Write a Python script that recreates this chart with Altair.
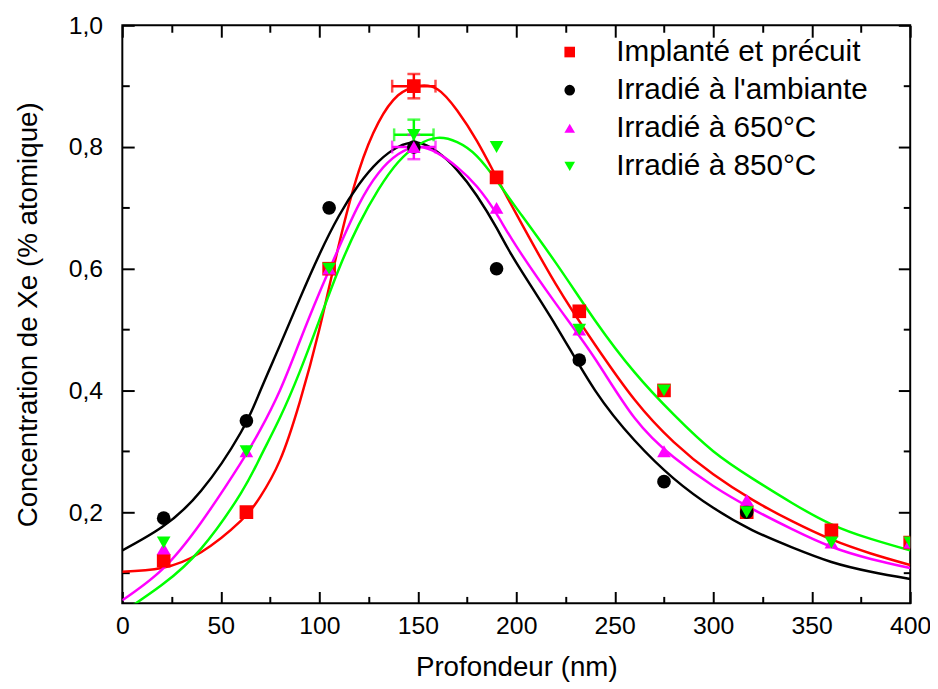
import altair as alt
import pandas as pd

# ---------------- data ----------------
series_names = ["Implanté et précuit", "Irradié à l'ambiante", "Irradié à 650°C", "Irradié à 850°C"]
series_colors = ["#ff0000", "#000000", "#ff00ff", "#00ff00"]
series_shapes = ["square", "circle", "triangle-up", "triangle-down"]

# measured points (depth in nm, concentration in at.%)
depth_pts = [21, 63, 105, 148, 190, 232, 275, 317, 360, 400]
implante_pts = [0.12, 0.20, 0.60, 0.90, 0.75, 0.53, 0.40, 0.20, 0.17, 0.15]
ambiante_pts = [0.19, 0.35, 0.70, 0.80, 0.60, 0.45, 0.25, 0.20, None, None]
irr650_pts = [0.14, 0.30, 0.60, 0.80, 0.70, 0.50, 0.30, 0.22, 0.15, 0.15]
irr850_pts = [0.15, 0.30, 0.60, 0.82, 0.80, 0.50, 0.40, 0.20, 0.15, 0.15]

# fitted curves, sampled from the figure
curve_x = [0, 20, 40, 60, 70, 80, 90, 100, 110, 120, 130, 140, 150, 160, 170, 180,
           190, 200, 220, 240, 260, 280, 300, 320, 340, 360, 380, 400]
implante_fit = [0.102, 0.108, 0.134, 0.185, 0.225, 0.285, 0.38, 0.50, 0.64, 0.76, 0.84, 0.885,
                0.90, 0.895, 0.86, 0.81, 0.75, 0.69, 0.575, 0.475, 0.385, 0.315, 0.262, 0.22,
                0.185, 0.155, 0.132, 0.113]
ambiante_fit = [0.137, 0.175, 0.235, 0.33, 0.399, 0.474, 0.55, 0.623, 0.687, 0.738, 0.776, 0.80,
                0.807, 0.792, 0.762, 0.72, 0.667, 0.61, 0.507, 0.40, 0.318, 0.255, 0.207, 0.17,
                0.142, 0.118, 0.102, 0.09]
irr650_fit = [0.055, 0.105, 0.183, 0.28, 0.335, 0.40, 0.48, 0.56, 0.635, 0.705, 0.757, 0.788,
              0.80, 0.79, 0.767, 0.735, 0.69, 0.637, 0.543, 0.452, 0.355, 0.29, 0.243, 0.205,
              0.172, 0.143, 0.123, 0.108]
irr850_fit = [0.035, 0.08, 0.14, 0.23, 0.29, 0.355, 0.43, 0.515, 0.60, 0.672, 0.73, 0.775,
              0.803, 0.815, 0.808, 0.785, 0.745, 0.70, 0.61, 0.515, 0.43, 0.36, 0.30, 0.255,
              0.215, 0.18, 0.156, 0.137]

# error bars on the peak points
err_series = ["Implanté et précuit", "Irradié à 650°C", "Irradié à 850°C"]
err_x = [148, 148, 148]
err_y = [0.90, 0.80, 0.82]
err_dx = [11, 11, 10]
err_dy = [0.02, 0.02, 0.025]

x_major = [0, 50, 100, 150, 200, 250, 300, 350, 400]
x_minor = [25, 75, 125, 175, 225, 275, 325, 375]
y_major = [0.2, 0.4, 0.6, 0.8, 1.0]
y_minor = [0.1, 0.3, 0.5, 0.7, 0.9]

# ---------------- tables ----------------
pts_rows = []
for k, (name, vals) in enumerate(zip(series_names, [implante_pts, ambiante_pts, irr650_pts, irr850_pts])):
    for x, y in zip(depth_pts, vals):
        if y is not None:
            pts_rows.append({"x": x, "y": y, "series": name, "order": k})
pts = pd.DataFrame(pts_rows)

fit_rows = []
for name, vals in zip(series_names, [implante_fit, ambiante_fit, irr650_fit, irr850_fit]):
    for x, y in zip(curve_x, vals):
        fit_rows.append({"x": x, "y": y, "series": name})
fits = pd.DataFrame(fit_rows)

errs = pd.DataFrame({"series": err_series, "x": err_x, "y": err_y, "dx": err_dx, "dy": err_dy})
errs["x_lo"] = errs["x"] - errs["dx"]
errs["x_hi"] = errs["x"] + errs["dx"]
errs["y_lo"] = errs["y"] - errs["dy"]
errs["y_hi"] = errs["y"] + errs["dy"]

W, H = 796, 584
FONT = "Liberation Sans"
xs = alt.Scale(domain=[0, 400], nice=False)
ys = alt.Scale(domain=[0.05, 1.0], nice=False, zero=False)
col = alt.Scale(domain=series_names, range=series_colors)
shp = alt.Scale(domain=series_names, range=series_shapes)
# same mapping, listed in another order so that Vega-Lite keeps it apart from the legend
col_nolegend = alt.Scale(domain=series_names[::-1], range=series_colors[::-1])


def tick_axis(orient, offset, values, size):
    return alt.Axis(orient=orient, offset=offset, values=values, labels=False, domain=False,
                    ticks=True, tickSize=size, tickWidth=2, tickColor="black", title=None,
                    grid=False)


def legend():
    return alt.Legend(title=None, orient="none", legendX=437, legendY=12, labelFont=FONT,
                      labelFontSize=30, labelColor="black", symbolSize=115,
                      symbolStrokeWidth=0, rowPadding=8.5, labelOffset=32, labelLimit=500)


stroke_enc = alt.Stroke("series:N", scale=col_nolegend, legend=None)
fill_enc = alt.Fill("series:N", scale=col_nolegend, legend=None)

# curves + label axes
curves = alt.Chart(fits).mark_line(strokeWidth=2.5, clip=True, interpolate="natural").encode(
    x=alt.X("x:Q", scale=xs, axis=alt.Axis(orient="bottom", values=x_major, format="d",
                                          ticks=False, domain=False, labelFontSize=25,
                                          labelPadding=10, labelFlush=False, labelOverlap=False,
                                          title="Profondeur (nm)", titleFontSize=28,
                                          titlePadding=16, titleFontWeight="normal")),
    y=alt.Y("y:Q", scale=ys, axis=alt.Axis(orient="left", values=y_major, ticks=False,
                                          domain=False, labelFontSize=25, labelPadding=20,
                                          labelFlush=False, labelOverlap=False,
                                          labelExpr="replace(format(datum.value, '.1f'), '.', ',')",
                                          title="Concentration de Xe (% atomique)",
                                          titleFontSize=28, titlePadding=26,
                                          titleFontWeight="normal")),
    stroke=stroke_enc,
    detail="series:N",
)

# points + inward major ticks (bottom / left)
points = alt.Chart(pts).mark_point(filled=True, size=190, opacity=1, clip=True).encode(
    x=alt.X("x:Q", scale=xs, axis=tick_axis("top", -H, x_major, 12)),
    y=alt.Y("y:Q", scale=ys, axis=tick_axis("right", -W, y_major, 12)),
    color=alt.Color("series:N", scale=col, legend=legend()),
    shape=alt.Shape("series:N", scale=shp, legend=legend()),
    order=alt.Order("order:Q"),
)

# error bars (horizontal) + inward major ticks (top / right)
err_h = alt.Chart(errs).mark_rule(strokeWidth=2.5).encode(
    x=alt.X("x_lo:Q", scale=xs, axis=tick_axis("bottom", -H, x_major, 12)),
    x2="x_hi:Q",
    y=alt.Y("y:Q", scale=ys, axis=tick_axis("left", -W, y_major, 12)),
    stroke=stroke_enc,
)

# error bars (vertical) + inward minor ticks (bottom / left)
err_v = alt.Chart(errs).mark_rule(strokeWidth=2.5).encode(
    x=alt.X("x:Q", scale=xs, axis=tick_axis("top", -H, x_minor, 7)),
    y=alt.Y("y_lo:Q", scale=ys, axis=tick_axis("right", -W, y_minor, 7)),
    y2="y_hi:Q",
    stroke=stroke_enc,
)

# caps on the horizontal bars + inward minor ticks (top / right)
caps_h = alt.Chart(errs).transform_fold(["x_lo", "x_hi"], as_=["k", "xc"]).mark_tick(
    orient="vertical", size=13, thickness=2.5).encode(
    x=alt.X("xc:Q", scale=xs, axis=tick_axis("bottom", -H, x_minor, 7)),
    y=alt.Y("y:Q", scale=ys, axis=tick_axis("left", -W, y_minor, 7)),
    fill=fill_enc,
)

caps_v = alt.Chart(errs).transform_fold(["y_lo", "y_hi"], as_=["k", "yc"]).mark_tick(
    orient="horizontal", size=13, thickness=2.5).encode(
    x=alt.X("x:Q", scale=xs, axis=None),
    y=alt.Y("yc:Q", scale=ys, axis=None),
    fill=fill_enc,
)

chart = alt.layer(curves, err_h, err_v, caps_h, caps_v, points).resolve_axis(
    x="independent", y="independent"
).properties(
    width=W, height=H,
    autosize=alt.AutoSizeParams(type="none"),
    padding={"left": 115.5, "top": 14, "right": 20, "bottom": 80},
).configure(
    font=FONT,
).configure_view(
    stroke="black", strokeWidth=2,
).configure_axis(
    labelFont=FONT, titleFont=FONT, labelColor="black", titleColor="black", grid=False,
)

chart.save("out.html", embed_options={"renderer": "svg", "actions": False})
